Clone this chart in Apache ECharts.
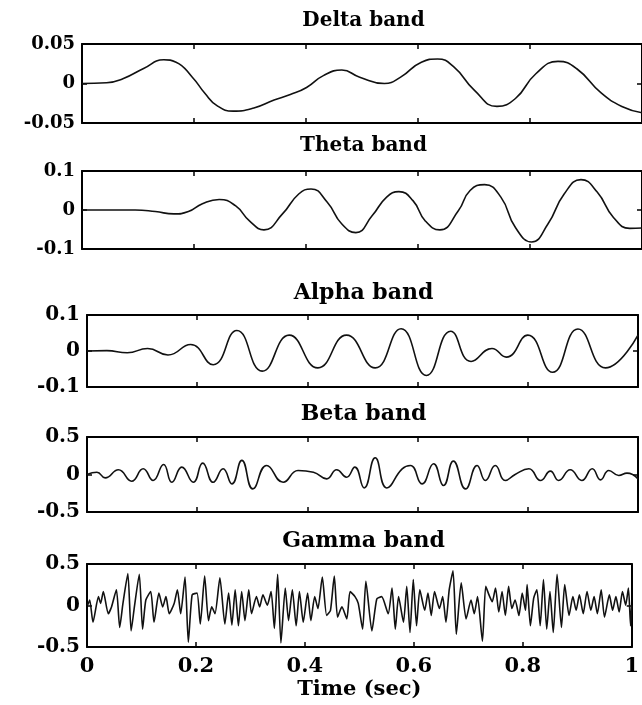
<!DOCTYPE html>
<html>
<head>
<meta charset="utf-8">
<title>EEG bands</title>
<script src="https://cdn.jsdelivr.net/npm/echarts@6/dist/echarts.min.js"></script>
<style>
html, body { margin: 0; padding: 0; background: #fff; }
#main { width: 642px; height: 705px; }
</style>
</head>
<body>
<div id="main"></div>
<script>
// values (time in sec, amplitude)
var deltaT = [0, 0.044, 0.073, 0.11, 0.146, 0.168, 0.197, 0.219, 0.241, 0.27, 0.307, 0.343, 0.372, 0.401, 0.431, 0.464, 0.496, 0.54, 0.569, 0.606, 0.635, 0.664, 0.70, 0.741, 0.774, 0.81, 0.85, 0.883, 0.927, 0.964, 1.0];
var deltaV = [0, 0.001, 0.006, 0.019, 0.030, 0.027, 0.008, -0.012, -0.028, -0.035, -0.031, -0.021, -0.014, -0.005, 0.010, 0.017, 0.008, 0.0, 0.008, 0.027, 0.031, 0.021, -0.008, -0.029, -0.019, 0.012, 0.028, 0.019, -0.012, -0.029, -0.037];

var thetaT = [0, 0.095, 0.131, 0.164, 0.19, 0.215, 0.245, 0.274, 0.299, 0.325, 0.358, 0.387, 0.409, 0.438, 0.464, 0.489, 0.518, 0.544, 0.566, 0.591, 0.613, 0.639, 0.672, 0.693, 0.719, 0.748, 0.774, 0.803, 0.832, 0.861, 0.891, 0.92, 0.949, 0.978, 1.0];
var thetaV = [0, 0, -0.004, -0.010, -0.004, 0.016, 0.027, 0.011, -0.028, -0.051, -0.010, 0.041, 0.054, 0.020, -0.036, -0.058, -0.015, 0.033, 0.047, 0.024, -0.028, -0.051, -0.002, 0.050, 0.065, 0.033, -0.045, -0.082, -0.036, 0.041, 0.078, 0.046, -0.019, -0.047, -0.046];

var alphaT = [0, 0.036, 0.073, 0.11, 0.147, 0.188, 0.229, 0.272, 0.318, 0.367, 0.419, 0.471, 0.523, 0.57, 0.616, 0.66, 0.697, 0.735, 0.761, 0.80, 0.845, 0.891, 0.941, 1.0];
var alphaV = [0, 0.001, -0.005, 0.007, -0.011, 0.018, -0.038, 0.057, -0.056, 0.044, -0.047, 0.044, -0.047, 0.062, -0.068, 0.055, -0.029, 0.007, -0.017, 0.044, -0.059, 0.061, -0.047, 0.044];

var betaT = [0, 0.018, 0.033, 0.057, 0.081, 0.102, 0.12, 0.139, 0.154, 0.172, 0.193, 0.21, 0.229, 0.247, 0.263, 0.281, 0.301, 0.326, 0.356, 0.383, 0.411, 0.435, 0.453, 0.471, 0.486, 0.503, 0.523, 0.544, 0.572, 0.587, 0.608, 0.629, 0.647, 0.665, 0.687, 0.708, 0.723, 0.741, 0.759, 0.777, 0.802, 0.823, 0.841, 0.856, 0.877, 0.898, 0.917, 0.932, 0.947, 0.965, 0.98, 1.0];
var betaV = [0, 0.031, -0.045, 0.063, -0.089, 0.076, -0.08, 0.134, -0.103, 0.098, -0.103, 0.152, -0.103, 0.076, -0.125, 0.188, -0.192, 0.12, -0.103, 0.054, 0.031, -0.058, 0.063, -0.036, 0.098, -0.179, 0.223, -0.179, 0.076, 0.12, -0.125, 0.143, -0.147, 0.179, -0.192, 0.12, -0.08, 0.12, -0.08, 0, 0.076, -0.08, 0.045, -0.08, 0.063, -0.08, 0.076, -0.071, 0.054, -0.013, 0.018, -0.058];

var gammaT = [0.001, 0.005, 0.011, 0.021, 0.025, 0.030, 0.039, 0.045, 0.054, 0.060, 0.066, 0.075, 0.081, 0.087, 0.096, 0.102, 0.108, 0.117, 0.123, 0.132, 0.139, 0.145, 0.151, 0.160, 0.166, 0.172, 0.180, 0.186, 0.193, 0.202, 0.208, 0.216, 0.223, 0.229, 0.235, 0.244, 0.253, 0.260, 0.266, 0.272, 0.278, 0.284, 0.290, 0.297, 0.302, 0.311, 0.317, 0.323, 0.331, 0.338, 0.344, 0.350, 0.356, 0.364, 0.370, 0.377, 0.384, 0.390, 0.397, 0.405, 0.411, 0.418, 0.424, 0.432, 0.440, 0.447, 0.454, 0.460, 0.468, 0.477, 0.483, 0.492, 0.498, 0.506, 0.512,
  0.523, 0.532, 0.541, 0.553, 0.560, 0.566, 0.572, 0.581, 0.587, 0.593, 0.599, 0.605, 0.611, 0.620, 0.626, 0.632, 0.638, 0.647, 0.653, 0.659, 0.665, 0.672, 0.678, 0.687, 0.696, 0.705, 0.711, 0.717, 0.726, 0.732, 0.738, 0.744, 0.750, 0.756, 0.762, 0.768, 0.774, 0.780, 0.786, 0.793, 0.799, 0.805, 0.808, 0.814, 0.820, 0.826, 0.832, 0.838, 0.844, 0.850, 0.856, 0.863, 0.871, 0.877, 0.885, 0.892, 0.898, 0.904, 0.911, 0.918, 0.925, 0.931, 0.937, 0.944, 0.950, 0.959, 0.965, 0.971, 0.977, 0.983, 0.989, 0.994, 0.998, 1.0];
var gammaV = [0.004, 0.066, -0.202, 0.107, 0.025, 0.169, -0.099, -0.017, 0.190, -0.264, 0.025, 0.384, -0.306, -0.017, 0.376, -0.285, 0.066, 0.169, -0.202, 0.149, -0.017, 0.107, -0.099, 0.025, 0.190, -0.099, 0.343, -0.442, 0.128, 0.149, -0.223, 0.355, -0.182, -0.017, -0.099, 0.335, -0.223, 0.149, -0.236, 0.190, -0.244, 0.169, -0.182, 0.190, -0.099, 0.107, -0.017, 0.128, 0.004, 0.169, -0.277, 0.376, -0.450, 0.211, -0.182, 0.190, -0.244, 0.169, -0.202, 0.149, -0.182, 0.107, -0.037, 0.343, -0.120, -0.058, 0.355, -0.140, -0.017, -0.161, 0.169, 0.107, 0.025, -0.285, 0.293,
  -0.306, 0.079, 0.107, -0.099, 0.211, -0.285, 0.107, -0.202, 0.231, -0.326, 0.314, -0.244, 0.190, -0.058, 0.149, -0.120, 0.169, -0.037, 0.107, -0.202, 0.190, 0.417, -0.347, 0.273, -0.161, 0.066, -0.099, 0.107, -0.430, 0.231, 0.128, 0.045, 0.211, -0.079, 0.169, -0.120, 0.231, -0.037, 0.066, -0.120, 0.149, -0.058, 0.252, -0.244, 0.087, 0.190, -0.244, 0.314, -0.285, 0.169, -0.326, 0.376, -0.264, 0.252, -0.120, 0.107, -0.058, 0.128, -0.099, 0.169, -0.058, 0.107, -0.099, 0.190, -0.140, 0.128, -0.058, 0.107, -0.079, 0.169, 0.004, 0.211, -0.244, 0.004];

var bandNames = ['Delta band', 'Theta band', 'Alpha band', 'Beta band', 'Gamma band'];
var yLimits = [0.05, 0.1, 0.1, 0.5, 0.5];
var bandT = [deltaT, thetaT, alphaT, betaT, gammaT];
var bandV = [deltaV, thetaV, alphaV, betaV, gammaV];

var FONT = 'DejaVu Serif';

// panel geometry (the two top panels sit a little further left in the original figure)
var panels = [
  { left: 82, width: 565, top: 44,  height: 79, titleY: 21,  yFont: 18, titleFont: 20, smooth: 0.5 },
  { left: 82, width: 565, top: 171, height: 78, titleY: 146, yFont: 18, titleFont: 20, smooth: 0.5 },
  { left: 87, width: 551, top: 315, height: 72, titleY: 293, yFont: 20, titleFont: 22, smooth: 0.5 },
  { left: 87, width: 551, top: 437, height: 75, titleY: 414, yFont: 20, titleFont: 22, smooth: 0.5 },
  { left: 87, width: 551, top: 564, height: 83, titleY: 541, yFont: 20, titleFont: 22, smooth: 0.2 }
];

function zip(t, v) {
  return t.map(function (x, i) { return [x, v[i]]; });
}

var grids = [], xAxes = [], yAxes = [], series = [], texts = [];
var lineBlack = { color: '#000', width: 2 };
var tickBlack = { color: '#000', width: 1.5 };

panels.forEach(function (p, i) {
  var L = yLimits[i];
  var last = (i === panels.length - 1);
  grids.push({ left: p.left, top: p.top, width: p.width, height: p.height });

  // bottom and top x axes
  xAxes.push({
    gridIndex: i, type: 'value', min: 0, max: 1, interval: 0.2, position: 'bottom',
    axisLine: { show: true, onZero: false, lineStyle: lineBlack },
    axisTick: { show: true, inside: true, length: 5, lineStyle: tickBlack },
    axisLabel: { show: last, color: '#000', fontFamily: FONT, fontWeight: 'bold', fontSize: 21, margin: 9 },
    splitLine: { show: false },
    name: last ? 'Time (sec)' : '',
    nameLocation: 'middle', nameGap: 32,
    nameTextStyle: { color: '#000', fontFamily: FONT, fontWeight: 'bold', fontSize: 21 }
  });
  xAxes.push({
    gridIndex: i, type: 'value', min: 0, max: 1, interval: 0.2, position: 'top',
    axisLine: { show: true, onZero: false, lineStyle: lineBlack },
    axisTick: { show: true, inside: true, length: 5, lineStyle: tickBlack },
    axisLabel: { show: false }, splitLine: { show: false }
  });

  // left and right y axes
  yAxes.push({
    gridIndex: i, type: 'value', min: -L, max: L, interval: L, position: 'left',
    axisLine: { show: true, onZero: false, lineStyle: lineBlack },
    axisTick: { show: true, inside: true, length: 5, lineStyle: tickBlack },
    axisLabel: { color: '#000', fontFamily: FONT, fontWeight: 'bold', fontSize: p.yFont, margin: 7 },
    splitLine: { show: false }
  });
  yAxes.push({
    gridIndex: i, type: 'value', min: -L, max: L, interval: L, position: 'right',
    axisLine: { show: true, onZero: false, lineStyle: lineBlack },
    axisTick: { show: true, inside: true, length: 5, lineStyle: tickBlack },
    axisLabel: { show: false }, splitLine: { show: false }
  });

  series.push({
    name: bandNames[i], type: 'line',
    xAxisIndex: 2 * i, yAxisIndex: 2 * i,
    data: zip(bandT[i], bandV[i]),
    smooth: p.smooth, symbol: 'none',
    lineStyle: { color: '#111', width: 1.6 },
    clip: true
  });

  texts.push({
    type: 'text', x: p.left + p.width / 2 - (i < 2 ? 1 : -1), y: p.titleY, z: 100,
    style: {
      text: bandNames[i], fill: '#000', align: 'center', verticalAlign: 'middle',
      fontFamily: FONT, fontWeight: 'bold', fontSize: p.titleFont
    }
  });
});

var myChart = echarts.init(document.getElementById('main'));
myChart.setOption({
  animation: false,
  backgroundColor: '#fff',
  grid: grids,
  xAxis: xAxes,
  yAxis: yAxes,
  series: series,
  graphic: texts
});
</script>
</body>
</html>
